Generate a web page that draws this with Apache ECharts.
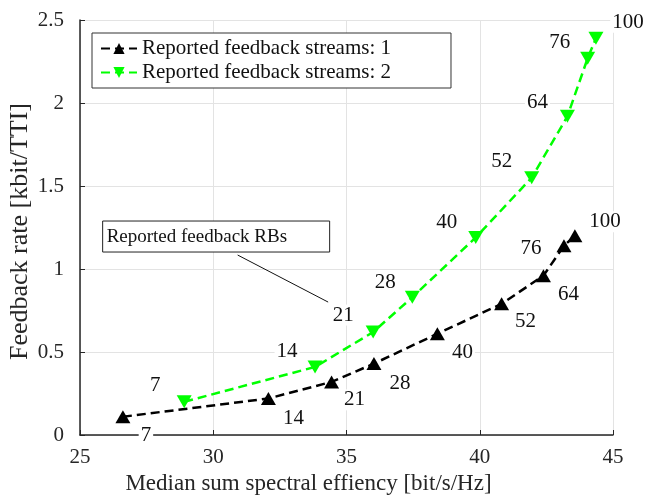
<!DOCTYPE html>
<html>
<head>
<meta charset="utf-8">
<script src="https://cdn.jsdelivr.net/npm/echarts@6/dist/echarts.min.js"></script>
<style>
html,body{margin:0;padding:0;background:#fff;}
#chart{width:647px;height:498px;}
</style>
</head>
<body>
<div id="chart"></div>
<script>
// ---- data ----
const rbLabels = ['7','14','21','28','40','52','64','76','100'];
const s1x = [26.61, 32.07, 34.44, 36.03, 38.41, 40.82, 42.39, 43.16, 43.57];
const s1y = [0.11, 0.22, 0.32, 0.43, 0.61, 0.79, 0.96, 1.14, 1.20];
const s2x = [28.91, 33.82, 36.00, 37.47, 39.85, 41.95, 43.29, 44.05, 44.36];
const s2y = [0.20, 0.41, 0.62, 0.83, 1.19, 1.55, 1.92, 2.27, 2.39];
const seriesNames = ['Reported feedback streams: 1', 'Reported feedback streams: 2'];
const xTicks = [25, 30, 35, 40, 45];
const yTicks = [0, 0.5, 1, 1.5, 2, 2.5];
const annotationText = 'Reported feedback RBs';

// ---- layout (label offsets in px, not data) ----
const off1 = [[23,19],[25,20],[23,18],[26,20],[25,19],[24,18],[25,19],[-33,3],[30,-14]];
const off2 = [[-29,-16],[-28,-15],[-30,-17],[-27,-15],[-29,-15],[-30,-16],[-30,-14],[-28,-16],[32,-16]];

const FONT = 'Liberation Serif';
const chart = echarts.init(document.getElementById('chart'));

function mk(xs, ys, offs) {
  return xs.map((x, i) => ({
    value: [x, ys[i]],
    label: { offset: offs[i], formatter: rbLabels[i] }
  }));
}
const labelStyle = {
  show: true, position: 'inside', color: '#111', fontFamily: FONT, fontSize: 21,
  backgroundColor: '#fff', padding: [0, 2], align: 'center', verticalAlign: 'middle'
};

chart.setOption({
  animation: false,
  grid: { left: 80, right: 34, top: 20, bottom: 63, containLabel: false, outerBoundsMode: 'none' },
  xAxis: {
    type: 'value', min: xTicks[0], max: xTicks[xTicks.length-1], interval: 5,
    name: 'Median sum spectral effiency [bit/s/Hz]', nameLocation: 'middle', nameGap: 37,
    nameMoveOverlap: false,
    nameTextStyle: { fontFamily: FONT, fontSize: 23, color: '#262626', padding: [0, 76, 0, 0] },
    axisLine: { show: true, lineStyle: { color: '#262626', width: 1.5 } },
    axisTick: { show: true, inside: true, length: 5, lineStyle: { color: '#262626' } },
    axisLabel: { fontFamily: FONT, fontSize: 21, color: '#262626', margin: 12 },
    splitLine: { show: true, lineStyle: { color: '#e3e3e3', width: 1 } }
  },
  yAxis: {
    type: 'value', min: yTicks[0], max: yTicks[yTicks.length-1], interval: 0.5,
    name: 'Feedback rate [kbit/TTI]', nameLocation: 'middle', nameGap: 47,
    nameMoveOverlap: false,
    nameTextStyle: { fontFamily: FONT, fontSize: 26, color: '#262626', padding: [0, 8, 0, 0] },
    axisLine: { show: true, lineStyle: { color: '#262626', width: 1.5 } },
    axisTick: { show: true, inside: true, length: 5, lineStyle: { color: '#262626' } },
    axisLabel: { fontFamily: FONT, fontSize: 21, color: '#262626', margin: 16 },
    splitLine: { show: true, lineStyle: { color: '#e3e3e3', width: 1 } }
  },
  legend: {
    orient: 'vertical', left: 92, top: 33,
    backgroundColor: '#fff', borderColor: '#333', borderWidth: 1,
    padding: [5, 60, 5, 8], itemGap: 3, itemWidth: 36, itemHeight: 14,
    textStyle: { fontFamily: FONT, fontSize: 21, color: '#111' },
    data: seriesNames
  },
  series: [
    {
      name: seriesNames[0], type: 'line', data: mk(s1x, s1y, off1),
      symbol: 'triangle', symbolSize: [15, 13], z: 3,
      itemStyle: { color: '#000' },
      lineStyle: { color: '#000', width: 2.5, type: [9, 5] },
      label: labelStyle
    },
    {
      name: seriesNames[1], type: 'line', data: mk(s2x, s2y, off2),
      symbol: 'triangle', symbolRotate: 180, symbolSize: [15, 13], z: 3,
      itemStyle: { color: '#00ff00' },
      lineStyle: { color: '#00ff00', width: 2.5, type: [9, 5] },
      label: labelStyle
    }
  ]
});

// annotation anchored to the green "21" label
const p21 = chart.convertToPixel({ seriesIndex: 1 }, [s2x[2], s2y[2]]);
const lblX = p21[0] + off2[2][0], lblY = p21[1] + off2[2][1];
const boxL = chart.convertToPixel({ xAxisIndex: 0 }, 25.85);
const boxT = chart.convertToPixel({ yAxisIndex: 0 }, 1.289);
chart.setOption({
  graphic: [
    { type: 'rect', z: 100, shape: { x: boxL, y: boxT, width: 227, height: 31 },
      style: { fill: '#fff', stroke: '#222', lineWidth: 1 } },
    { type: 'text', z: 101, x: boxL + 4, y: boxT + 16,
      style: { text: annotationText, fontFamily: FONT, fontSize: 19, fill: '#111', verticalAlign: 'middle' } },
    { type: 'line', z: 100, shape: { x1: boxL + 135, y1: boxT + 34, x2: lblX - 15, y2: lblY - 13 },
      style: { stroke: '#111', lineWidth: 1 } }
  ]
});
</script>
</body>
</html>
